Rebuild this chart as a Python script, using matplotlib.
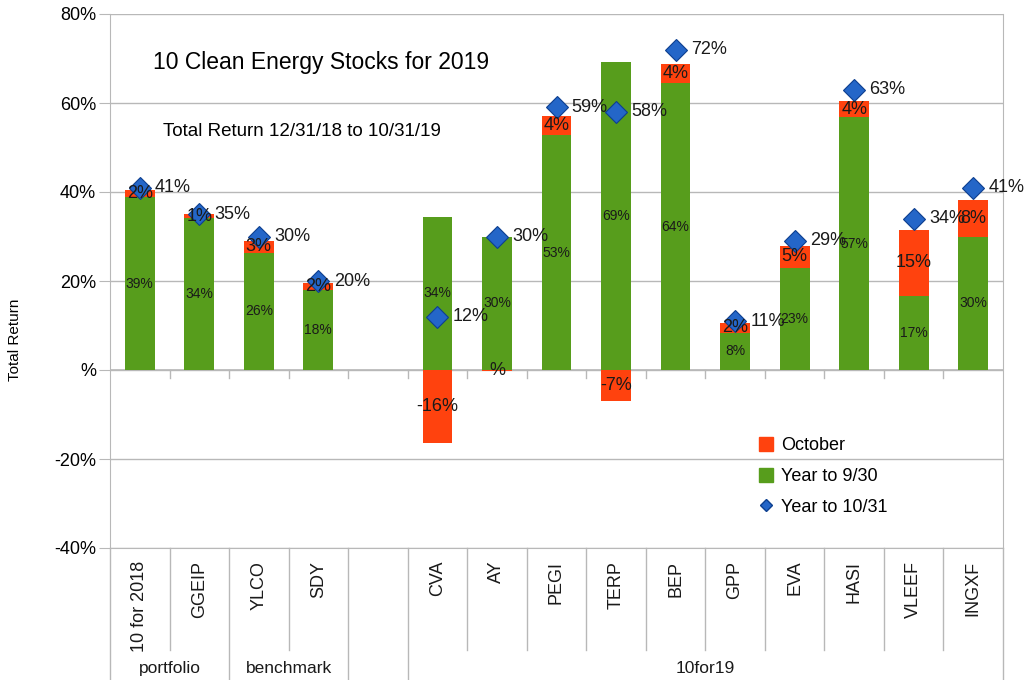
import numpy as np
import matplotlib.pyplot as plt
import matplotlib.transforms as mtransforms
from matplotlib.lines import Line2D
from matplotlib.patches import Patch

plt.rcParams['font.family'] = ['Liberation Sans', 'DejaVu Sans']

# data (percent)
tickers = ['10 for 2018', 'GGEIP', 'YLCO', 'SDY', '', 'CVA', 'AY', 'PEGI',
           'TERP', 'BEP', 'GPP', 'EVA', 'HASI', 'VLEEF', 'INGXF']
to_sep = [38.8, 34.2, 26.3, 18.0, np.nan, 34.4, 30.0, 52.8,
          69.2, 64.4, 8.4, 23.0, 56.8, 16.6, 30.0]
october = [1.6, 0.8, 2.7, 1.6, np.nan, -16.4, -0.3, 4.2,
           -6.9, 4.3, 2.1, 4.9, 3.6, 14.9, 8.2]
to_oct = [41, 35, 30, 20, np.nan, 12, 30, 59, 58, 72, 11, 29, 63, 34, 41]
groups = ['portfolio', 'benchmark', '', '10for19']
group_span = [(0, 2), (2, 4), (4, 5), (5, 15)]

GREEN = '#579d1c'
ORANGE = '#ff420e'
BLUE = '#2466c8'
GRID = '#b8b8b8'


def pct(v):
    n = int(round(v))
    return f'{n}%' if n != 0 else '%'


x = np.arange(len(tickers))
sep = np.array(to_sep)
octo = np.array(october)
tot = np.array(to_oct)

fig = plt.figure(figsize=(10.28, 6.8), dpi=100)
ax = fig.add_axes([110 / 1028, 1 - 548 / 680, (1003 - 110) / 1028, 534 / 680])

ax.bar(x, sep, 0.5, color=GREEN, zorder=2)
oct_bottom = np.where(octo > 0, sep, 0)
ax.bar(x, octo, 0.5, bottom=oct_bottom, color=ORANGE, zorder=2)
ax.plot(x, tot, linestyle='none', marker='D', ms=11.5, mfc=BLUE,
        mec='#0d3f8f', mew=0.8, zorder=4)

# labels
for i in x:
    if np.isnan(sep[i]):
        continue
    ax.text(i, sep[i] / 2, pct(sep[i]), ha='center', va='center',
            fontsize=10, color='#1a1a1a', zorder=3)
    ax.text(i, oct_bottom[i] + octo[i] / 2, pct(octo[i]), ha='center',
            va='center', fontsize=13, color='#1a1a1a', zorder=5)
    ax.annotate(pct(tot[i]), (i, tot[i]), xytext=(11, 0),
                textcoords='offset points', ha='left', va='center',
                fontsize=13, color='#1a1a1a', zorder=5)

ax.set_xlim(-0.5, len(tickers) - 0.5)
ax.set_ylim(-40, 80)
ax.set_yticks(range(-40, 81, 20))
ax.set_yticklabels([pct(v) for v in range(-40, 81, 20)], fontsize=13)
ax.tick_params(axis='y', length=8, color=GRID, pad=2)
ax.set_xticks([])
ax.grid(axis='y', color=GRID, lw=1, zorder=0)
ax.set_axisbelow(True)
for s in ['left', 'right', 'bottom']:
    ax.spines[s].set_color(GRID)
ax.spines['top'].set_visible(False)

# zero line with small ticks
ax.axhline(0, color=GRID, lw=1.2, zorder=1)
for b in np.arange(0.5, len(tickers) - 1, 1.0):
    ax.plot([b, b], [0, -1.8], color=GRID, lw=1, zorder=1)

# category area below the plot
trans = mtransforms.blended_transform_factory(ax.transData, ax.transAxes)
edges = {-0.5} | {s - 0.5 for s, e in group_span} | {len(tickers) - 0.5}
for b in np.arange(-0.5, len(tickers), 1.0):
    low = -0.25 if b in edges else -0.191
    ax.plot([b, b], [0, low], transform=trans, clip_on=False, color=GRID, lw=1)
for i, t in enumerate(tickers):
    ax.text(i, -0.024, t, transform=trans, rotation=90, ha='center', va='top',
            fontsize=13, color='#1a1a1a')
for g, (s, e) in zip(groups, group_span):
    ax.text((s + e - 1) / 2, -0.225, g, transform=trans, ha='center',
            va='center', fontsize=12.5, color='#1a1a1a')

fig.text(15 / 1028, 1 - 340 / 680, 'Total Return', rotation=90, ha='center',
         va='center', fontsize=11)
fig.text(153 / 1028, 1 - 62 / 680, '10 Clean Energy Stocks for 2019',
         ha='left', va='center', fontsize=16.5)
fig.text(163 / 1028, 1 - 131 / 680, 'Total Return 12/31/18 to 10/31/19',
         ha='left', va='center', fontsize=13.5)

handles = [Patch(color=ORANGE), Patch(color=GREEN),
           Line2D([], [], linestyle='none', marker='D', ms=6, mfc=BLUE, mec='#0d3f8f')]
ax.legend(handles, ['October', 'Year to 9/30', 'Year to 10/31'],
          loc='upper left', bbox_to_anchor=(750 / 1028, 1 - 428 / 680),
          bbox_transform=fig.transFigure, frameon=False, fontsize=13,
          handlelength=0.8, handleheight=0.8, handletextpad=0.4,
          labelspacing=0.75, borderpad=0)

fig.savefig('out.png', dpi=100)
